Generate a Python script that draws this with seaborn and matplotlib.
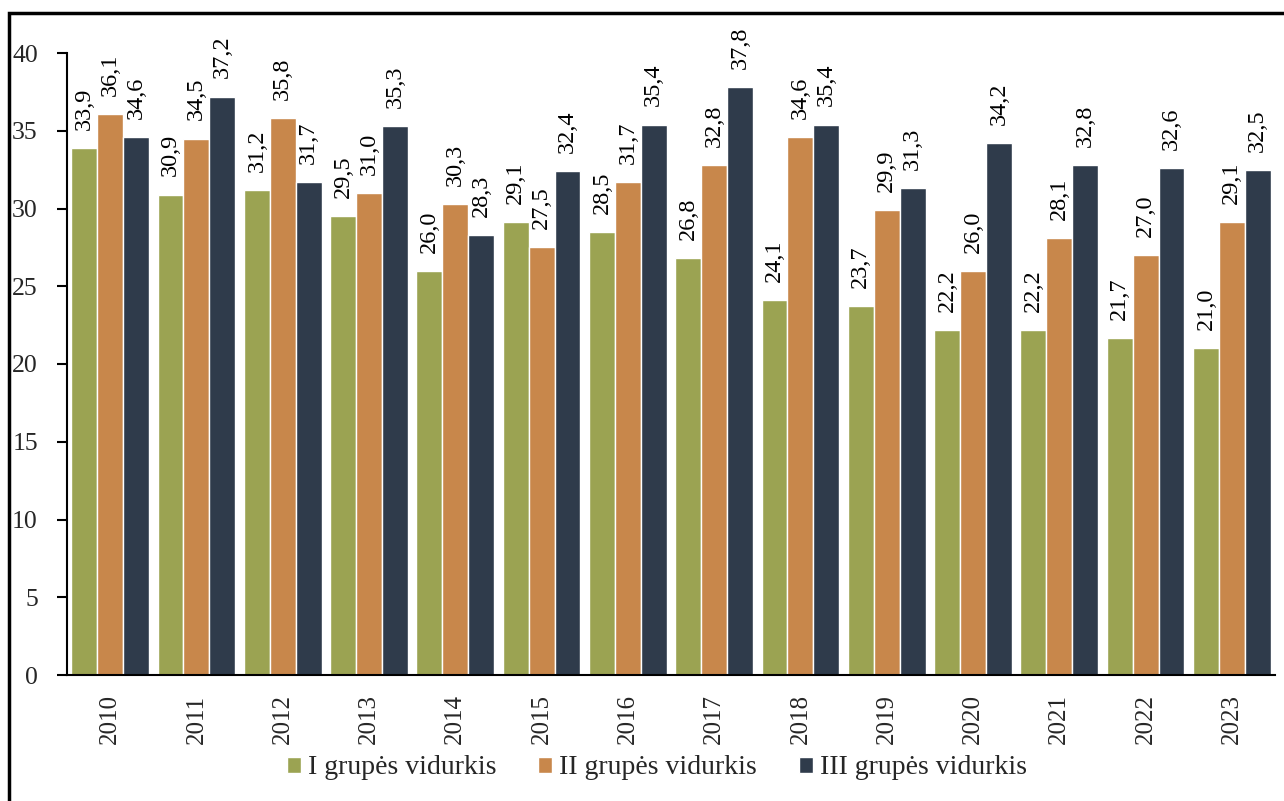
import matplotlib
matplotlib.use("Agg")
import matplotlib.pyplot as plt
import seaborn as sns
import pandas as pd
from matplotlib.patches import Rectangle

years = [str(y) for y in range(2010, 2024)]
group_names = ["I grupės vidurkis", "II grupės vidurkis", "III grupės vidurkis"]
g1 = [33.9, 30.9, 31.2, 29.5, 26.0, 29.1, 28.5, 26.8, 24.1, 23.7, 22.2, 22.2, 21.7, 21.0]
g2 = [36.1, 34.5, 35.8, 31.0, 30.3, 27.5, 31.7, 32.8, 34.6, 29.9, 26.0, 28.1, 27.0, 29.1]
g3 = [34.6, 37.2, 31.7, 35.3, 28.3, 32.4, 35.4, 37.8, 35.4, 31.3, 34.2, 32.8, 32.6, 32.5]
colors = ["#9BA352", "#C8874B", "#2F3B4B"]
y_ticks = [0, 5, 10, 15, 20, 25, 30, 35, 40]

rows = []
for name, vals in zip(group_names, [g1, g2, g3]):
    for yr, v in zip(years, vals):
        rows.append({"year": yr, "group": name, "value": v})
df = pd.DataFrame(rows)

sns.set_style("white")
plt.rcParams["font.family"] = ["Liberation Serif", "DejaVu Serif"]

fig = plt.figure(figsize=(12.84, 8.01), dpi=100)
ax = fig.add_axes([67/1284, 1-675/801, (1275-67)/1284, (675-53)/801])

sns.barplot(data=df, x="year", y="value", hue="group", palette=colors,
            width=0.9, edgecolor="white", linewidth=1, ax=ax, legend=True,
            saturation=1)

for cont in ax.containers:
    labels = [f"{v:.1f}".replace(".", ",") for v in cont.datavalues]
    ax.bar_label(cont, labels=labels, rotation=90, padding=13, fontsize=17.5,
                 color="black")

ax.set_ylim(0, 40)
ax.set_xlim(-0.5, len(years) - 0.5)
ax.set_yticks(y_ticks)
ax.set_yticklabels([str(t) for t in y_ticks], fontsize=18.5)
ax.set_xticks(range(len(years)))
ax.set_xticklabels(years, rotation=90, fontsize=18)
ax.set_xticks([i - 0.5 for i in range(len(years) + 1)], minor=True)
ax.tick_params(axis="x", which="major", length=0, pad=14)
ax.tick_params(axis="x", which="minor", length=8, width=1.5, direction="out", color="black")
ax.tick_params(axis="y", length=7, width=1.5, direction="out", color="black", pad=14, left=True)
ax.set_xlabel("")
ax.set_ylabel("")
for s in ["top", "right"]:
    ax.spines[s].set_visible(False)
for s in ["left", "bottom"]:
    ax.spines[s].set_color("black")
    ax.spines[s].set_linewidth(1.5)

handles, labels = ax.get_legend_handles_labels()
ax.legend_.remove()
fig.legend(handles, labels, loc="center", bbox_to_anchor=(657/1284, 1-768/801),
           ncol=3, frameon=False, fontsize=20, handlelength=0.5, handleheight=0.5,
           handletextpad=0.25, columnspacing=1.5)

fig.patches.append(Rectangle((9/1284, -0.05), 1.1, 1-13/801+0.05, transform=fig.transFigure,
                             fill=False, edgecolor="black", linewidth=2.5))

fig.savefig("out.png", dpi=100)
